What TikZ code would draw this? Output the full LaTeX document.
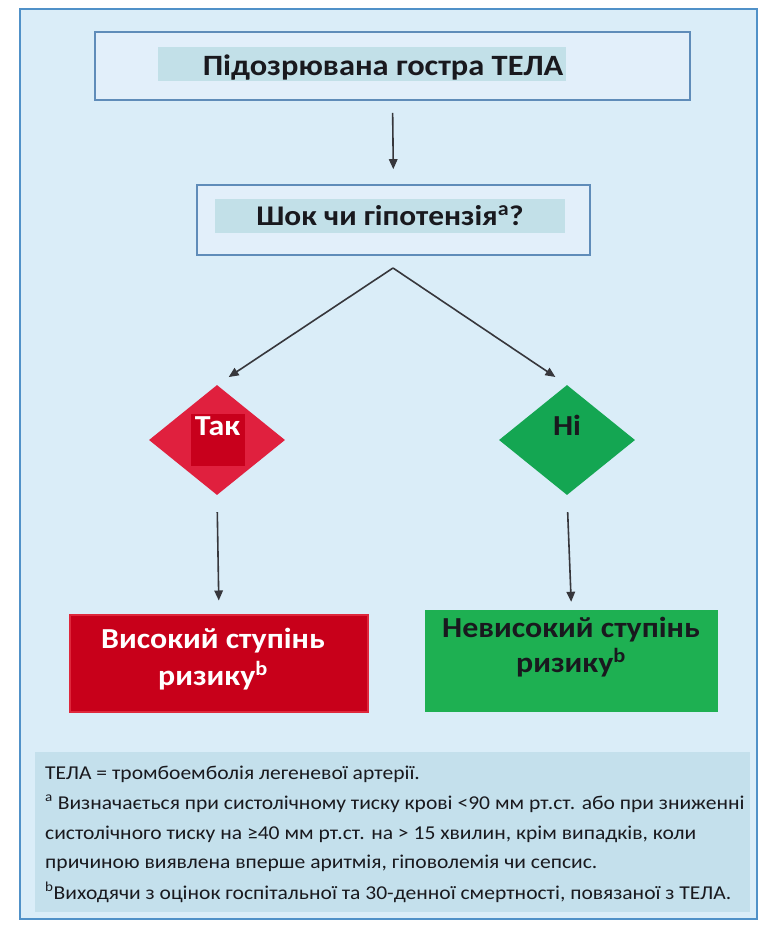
\documentclass[tikz,border=0pt]{standalone}
\usepackage{fontspec}
\setmainfont{Carlito}[FakeStretch=1.1]
\usetikzlibrary{shapes.geometric,arrows.meta}
\definecolor{bgblue}{RGB}{218,237,248}
\definecolor{framecol}{RGB}{80,145,200}
\definecolor{boxline}{RGB}{95,140,185}
\definecolor{boxfill}{RGB}{226,239,250}
\definecolor{hlcol}{RGB}{194,224,232}
\definecolor{redd}{RGB}{224,32,62}
\definecolor{redin}{RGB}{200,0,28}
\definecolor{redbox}{RGB}{200,0,26}
\definecolor{redline}{RGB}{222,40,60}
\definecolor{greend}{RGB}{20,166,82}
\definecolor{greenbox}{RGB}{30,176,82}
\definecolor{fnfill}{RGB}{196,224,236}
\definecolor{arrcol}{RGB}{55,55,60}
\definecolor{darktxt}{RGB}{25,25,30}
\begin{document}
\begin{tikzpicture}[x=1pt,y=-1pt,
  frame/.style={draw=framecol, line width=1.8pt, fill=bgblue, minimum width=737pt, minimum height=910pt, inner sep=0pt},
  stepbox/.style={draw=boxline, line width=1.6pt, fill=boxfill, inner sep=0pt},
  hl/.style={fill=hlcol, inner sep=0pt},
  ttl/.style={font=\fontsize{29.5}{34}\selectfont\bfseries, text=darktxt, inner sep=0pt, anchor=base},
  dia/.style={diamond, inner sep=0pt, minimum width=136pt, minimum height=110pt},
  arr/.style={draw=arrcol, line width=1.6pt, -{Triangle[length=10pt,width=8.5pt]}},
  fn/.style={font=\fontsize{19.6}{22}\selectfont, text=darktxt, anchor=base west, inner sep=0pt}
]
\useasboundingbox (0,0) rectangle (765,934);
\fill[white] (0,0) rectangle (765,934);
\node[frame] (frame) at (388.5,464) {};
% top box
\node[stepbox, minimum width=595pt, minimum height=68pt] (top) at (392.5,66) {};
\node[hl, minimum width=408pt, minimum height=34pt] (tophl) at (362,64) {};
\node[ttl] (toptxt) at (383,75) {Підозрювана гостра ТЕЛА};
% question box
\node[stepbox, minimum width=393pt, minimum height=70pt] (q) at (393.5,220) {};
\node[hl, minimum width=350pt, minimum height=34pt] (qhl) at (390,216) {};
\node[ttl, font=\fontsize{28.5}{34}\selectfont\bfseries] (qtxt) at (390,225) {Шок чи гіпотензія\textsuperscript{a}?};
\draw[arr, shorten <=12pt, shorten >=15pt] (top.south) -- (q.north);
\coordinate (apex) at (393,268);
% diamonds
\node[dia, fill=redd] (yes) at (217,440) {};
\node[fill=redin, minimum width=54pt, minimum height=52pt, inner sep=0pt] (yesin) at (218,440) {};
\node[ttl, text=white, font=\fontsize{29}{34}\selectfont\bfseries] (yestxt) at (217.5,435) {Так};
\node[dia, fill=greend] (no) at (567,440) {};
\node[ttl, font=\fontsize{29}{34}\selectfont\bfseries] (notxt) at (567,435) {Ні};
\draw[arr, shorten >=14pt] (apex) -- (yes.north);
\draw[arr, shorten >=14pt] (apex) -- (no.north);
% result boxes
\node[draw=redline, line width=2pt, fill=redbox, minimum width=298pt, minimum height=97pt, inner sep=0pt] (high) at (219,663) {};
\node[ttl, text=white, font=\fontsize{29}{34}\selectfont\bfseries] (hightxt1) at (213,648) {Високий ступінь};
\node[ttl, text=white, font=\fontsize{29}{34}\selectfont\bfseries] (hightxt2) at (213,685) {ризику\textsuperscript{b}};
\node[fill=greenbox, minimum width=293pt, minimum height=102pt, inner sep=0pt] (low) at (571.5,661) {};
\node[ttl, font=\fontsize{29}{34}\selectfont\bfseries] (lowtxt1) at (571,637) {Невисокий ступінь};
\node[ttl, font=\fontsize{29}{34}\selectfont\bfseries] (lowtxt2) at (571,672) {ризику\textsuperscript{b}};
\draw[arr, shorten <=17pt, shorten >=13pt] (yes.south) -- (high.north);
\draw[arr, shorten <=17pt, shorten >=8pt] (no.south) -- (low.north);
% footnotes
\node[fill=fnfill, minimum width=715pt, minimum height=160pt, inner sep=0pt] (fnbox) at (392.5,832) {};
\node[fn] (fn1) at (45,779) {ТЕЛА = тромбоемболія легеневої артерії.};
\node[fn] (fn2) at (45,809) {\textsuperscript{a} Визначається при систолічному тиску крові <90 мм рт.ст. або при зниженні};
\node[fn] (fn3) at (45,839) {систолічного тиску на ≥40 мм рт.ст. на > 15 хвилин, крім випадків, коли};
\node[fn] (fn4) at (45,868) {причиною виявлена вперше аритмія, гіповолемія чи сепсис.};
\node[fn] (fn5) at (45,899) {\textsuperscript{b}Виходячи з оцінок госпітальної та 30-денної смертності, повязаної з ТЕЛА.};
\end{tikzpicture}
\end{document}
